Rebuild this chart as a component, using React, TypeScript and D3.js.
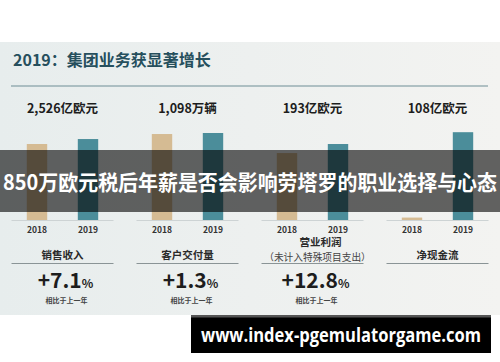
import React from "react";
import * as d3 from "d3";

// chart data
const groups = ["销售收入", "客户交付量", "营业利润", "净现金流"];
const years = ["2018", "2019"];
const values2018 = [2371, 1085, 170, 3];
const values2019 = [2526, 1098, 193, 108];
const yMax = [3120, 1262, 254, 123];
const valueLabels = ["2,526亿欧元", "1,098万辆", "193亿欧元", "108亿欧元"];
const growth = ["+7.1", "+1.3", "+12.8", ""];
const subLabels = ["", "", "（未计入特殊项目支出）", ""];

const W = 500;
const H = 362;
const FONT = "'Noto Sans CJK SC', 'Noto Sans', sans-serif";
const colors = ["#d5bb93", "#4b8d9a"];

const App = () => {
  const x0 = d3.scaleBand().domain(groups).range([0, W]);
  const base = 220;

  return (
    <svg width={W} height={H} style={{ position: "absolute", left: 0, top: 0, fontFamily: FONT }}>
      <defs>
        <linearGradient id="bg" x1="0" x2="1" y1="0" y2="0">
          <stop offset="0" stopColor="#e7eded" />
          <stop offset="1" stopColor="#f3f3f1" />
        </linearGradient>
      </defs>
      <rect width={W} height={H} fill="#fff" />
      <rect x={0} y={42} width={W} height={273} fill="url(#bg)" />

      <text x={13} y={66} fontSize={16} fontWeight="bold" fill="#264f5d">2019：集团业务获显著增长</text>
      <line x1={11} x2={488} y1={86} y2={86} stroke="#6f8d95" strokeWidth={1.2} />

      {groups.map((g, gi) => {
        const cx = x0(g)! + x0.bandwidth() / 2;
        const x1 = d3.scaleBand().domain(years).range([cx - 51, cx + 51]).paddingInner(0.6).paddingOuter(0.3);
        const y = d3.scaleLinear().domain([0, yMax[gi]]).range([base, 120]);
        const vals = [values2018[gi], values2019[gi]];
        return (
          <g key={g}>
            <text x={cx} y={113} textAnchor="middle" fontSize={12.5} fontWeight="bold" fill="#1d1d1d">{valueLabels[gi]}</text>
            {vals.map((v, i) => (
              <rect key={i} x={x1(years[i])} y={y(v)} width={x1.bandwidth()} height={base - y(v)} fill={colors[i]} />
            ))}
            <line x1={cx - 51} x2={cx + 51} y1={base + 0.5} y2={base + 0.5} stroke="#cdd3d4" />
            {years.map((yr) => (
              <text key={yr} x={x1(yr)! + x1.bandwidth() / 2} y={233} textAnchor="middle" fontSize={8.5} fontWeight="bold" fill="#333">{yr}</text>
            ))}
            {subLabels[gi] ? (
              <>
                <text x={cx + 8} y={246} textAnchor="middle" fontSize={10.5} fontWeight="bold" fill="#2a2a2a">{g}</text>
                <text x={cx + 5} y={261} textAnchor="middle" fontSize={9.7} fill="#444">{subLabels[gi]}</text>
              </>
            ) : (
              <text x={cx} y={259} textAnchor="middle" fontSize={10.5} fontWeight="bold" fill="#2a2a2a">{g}</text>
            )}
            <line x1={cx - 51} x2={cx + 51} y1={263.5} y2={263.5} stroke="#8a9496" strokeWidth={1} />
            {growth[gi] && (
              <>
                <text x={cx + 3} y={288} textAnchor="middle" fill="#1d1d1d" fontWeight="bold">
                  <tspan fontSize={21}>{growth[gi]}</tspan>
                  <tspan fontSize={12}>%</tspan>
                </text>
                <text x={cx + 4} y={303} textAnchor="middle" fontSize={7} fontWeight="bold" fill="#444">相比于上一年</text>
              </>
            )}
          </g>
        );
      })}

      <rect x={0} y={150} width={W} height={62} fill="rgba(0,0,0,0.6)" />
      <text x={250} y={190} textAnchor="middle" fontSize={21} fontWeight={600} fill="#fff" textLength={494} lengthAdjust="spacingAndGlyphs">850万欧元税后年薪是否会影响劳塔罗的职业选择与心态</text>

      <rect x={191} y={315} width={300} height={38} fill="#000" />
      <rect x={191} y={315} width={300} height={2.5} fill="#555" />
      <text x={341} y={342} textAnchor="middle" fontSize={19} fontWeight="bold" fill="#fff" fontFamily="'Open Sans', 'Noto Sans', sans-serif" textLength={280} lengthAdjust="spacingAndGlyphs">www.index-pgemulatorgame.com</text>
    </svg>
  );
};

export default App;
